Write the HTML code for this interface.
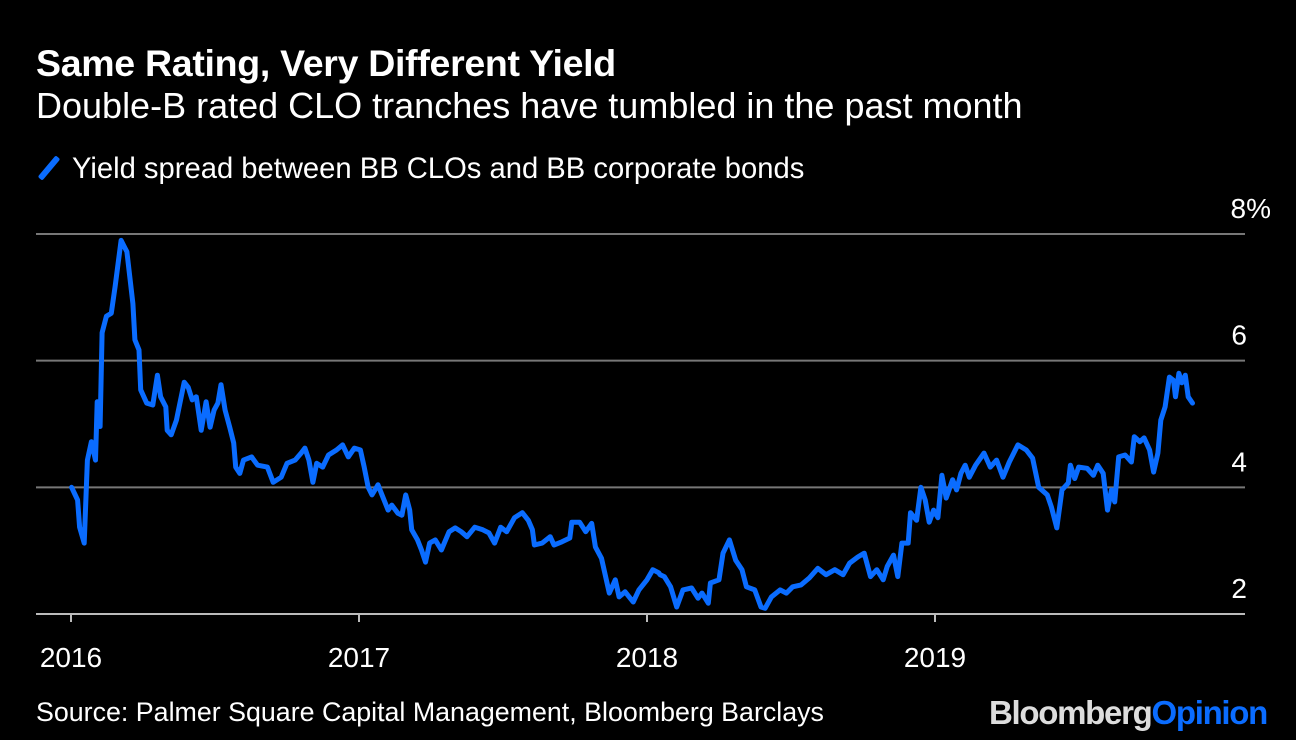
<!DOCTYPE html>
<html><head><meta charset="utf-8"><style>
body{margin:0;background:#000;width:1296px;height:740px;overflow:hidden;font-family:"Liberation Sans",sans-serif;color:#fff}
.t{position:absolute;white-space:nowrap;line-height:1}
</style></head><body>
<div class="t" style="left:36px;top:45px;font-size:37.5px;font-weight:bold;letter-spacing:-0.3px">Same Rating, Very Different Yield</div>
<div class="t" style="left:36px;top:88px;font-size:36px">Double-B rated CLO tranches have tumbled in the past month</div>
<div class="t" style="left:38px;top:154px;font-size:29.2px"><span style="display:inline-block;width:6px;height:28px;background:#0a6cff;transform:rotate(40deg);vertical-align:-4px;margin:0 20px 0 8px;border-radius:2px"></span>Yield spread between BB CLOs and BB corporate bonds</div>
<svg id="chart" width="1296" height="740" style="position:absolute;left:0;top:0"></svg>
<div class="t" style="left:36px;top:699px;font-size:26.8px">Source: Palmer Square Capital Management, Bloomberg Barclays</div>
<div class="t" style="left:989px;top:696px;font-size:33px;font-weight:bold;letter-spacing:-1.3px"><span style="color:#ddd">Bloomberg</span><span style="color:#0a6cff">Opinion</span></div>
<script>
const yearTicks=[2016,2017,2018,2019];
const yTicks=[2,4,6,8];
const tYears=[0.002,0.023,0.030,0.046,0.057,0.071,0.085,0.091,0.101,0.108,0.123,0.140,0.153,0.174,0.194,0.215,0.222,0.236,0.242,0.263,0.284,0.300,0.311,0.329,0.334,0.348,0.366,0.393,0.407,0.421,0.435,0.452,0.469,0.483,0.497,0.510,0.521,0.535,0.551,0.565,0.572,0.586,0.599,0.627,0.648,0.682,0.702,0.730,0.750,0.778,0.799,0.812,0.826,0.840,0.853,0.874,0.894,0.922,0.943,0.963,0.984,1.005,1.018,1.032,1.045,1.066,1.080,1.101,1.114,1.135,1.149,1.162,1.176,1.183,1.203,1.217,1.231,1.245,1.265,1.286,1.313,1.334,1.355,1.375,1.402,1.430,1.451,1.471,1.492,1.513,1.540,1.567,1.588,1.602,1.609,1.636,1.664,1.677,1.705,1.732,1.739,1.766,1.787,1.808,1.821,1.842,1.869,1.890,1.903,1.924,1.952,1.972,2.000,2.020,2.041,2.045,2.060,2.082,2.103,2.125,2.155,2.177,2.191,2.213,2.220,2.250,2.264,2.286,2.308,2.330,2.345,2.374,2.396,2.410,2.432,2.462,2.484,2.506,2.535,2.564,2.593,2.622,2.652,2.681,2.703,2.732,2.754,2.776,2.798,2.820,2.834,2.856,2.871,2.885,2.907,2.915,2.936,2.951,2.966,2.980,2.995,3.010,3.024,3.039,3.061,3.075,3.090,3.105,3.119,3.141,3.170,3.192,3.214,3.236,3.258,3.288,3.317,3.339,3.360,3.390,3.404,3.423,3.441,3.463,3.470,3.485,3.499,3.528,3.550,3.565,3.584,3.599,3.613,3.624,3.638,3.660,3.682,3.692,3.711,3.726,3.745,3.759,3.774,3.784,3.799,3.814,3.828,3.835,3.847,3.857,3.869,3.879,3.894];
const spread=[4.0,3.8,3.37,3.12,4.43,4.72,4.43,5.35,4.96,6.44,6.7,6.75,7.17,7.9,7.72,6.9,6.33,6.17,5.54,5.33,5.3,5.77,5.43,5.27,4.9,4.83,5.06,5.66,5.58,5.38,5.43,4.9,5.35,4.95,5.22,5.33,5.62,5.22,4.95,4.7,4.32,4.22,4.43,4.48,4.35,4.32,4.08,4.16,4.38,4.43,4.54,4.62,4.43,4.08,4.38,4.32,4.51,4.59,4.67,4.48,4.62,4.59,4.32,4.0,3.88,4.04,3.88,3.64,3.72,3.59,3.56,3.88,3.64,3.33,3.17,3.01,2.82,3.12,3.17,3.01,3.3,3.36,3.3,3.22,3.37,3.33,3.28,3.12,3.37,3.3,3.52,3.6,3.48,3.33,3.09,3.12,3.22,3.09,3.14,3.2,3.45,3.45,3.3,3.43,3.06,2.88,2.33,2.54,2.27,2.35,2.19,2.38,2.54,2.7,2.65,2.62,2.59,2.43,2.11,2.38,2.41,2.25,2.33,2.17,2.49,2.54,2.96,3.17,2.85,2.7,2.43,2.38,2.11,2.09,2.27,2.38,2.33,2.43,2.46,2.57,2.72,2.62,2.7,2.62,2.8,2.9,2.96,2.59,2.7,2.54,2.75,2.93,2.59,3.12,3.12,3.6,3.48,4.0,3.8,3.45,3.64,3.52,4.19,3.83,4.12,3.96,4.22,4.35,4.16,4.35,4.54,4.32,4.43,4.16,4.4,4.67,4.59,4.46,4.0,3.88,3.69,3.36,3.96,4.07,4.35,4.14,4.32,4.3,4.19,4.35,4.22,3.64,3.96,3.77,4.48,4.51,4.4,4.8,4.72,4.78,4.59,4.24,4.54,5.06,5.27,5.74,5.69,5.43,5.8,5.65,5.77,5.43,5.33];
const NS='http://www.w3.org/2000/svg';
const svg=document.getElementById('chart');
const xS=t=>71+t*288;
const yS=v=>614-(v-2)*63.33;
function mk(tag,at){const e=document.createElementNS(NS,tag);for(const k in at)e.setAttribute(k,at[k]);svg.appendChild(e);return e;}
yTicks.forEach(v=>{
  if(v>2){const g=mk('line',{x1:36,x2:1245,y1:yS(v),y2:yS(v),stroke:'#777','stroke-width':2});
  
  }
  const l=mk('text',{x:v===8?1271:1247,y:yS(v)-16,'text-anchor':'end',fill:'#fff','font-size':28,'font-family':'Liberation Sans'});
  l.textContent=v===8?'8%':String(v);
  
  
});
const ax=mk('line',{x1:36,x2:1245,y1:614,y2:614,stroke:'#bbb','stroke-width':2});


yearTicks.forEach(yr=>{
  const x=xS(yr-2016);
  const tk=mk('line',{x1:x,x2:x,y1:614,y2:622,stroke:'#bbb','stroke-width':2});
  
  
  const tl=mk('text',{x:x,y:667,'text-anchor':'middle',fill:'#fff','font-size':28,'font-family':'Liberation Sans'});
  tl.textContent=String(yr);
  
  
});
const d=tYears.map((t,i)=>(i?'L':'M')+xS(t).toFixed(1)+','+yS(spread[i]).toFixed(1)).join('');
const p=mk('path',{d:d,fill:'none',stroke:'#0a6cff','stroke-width':5,'stroke-linejoin':'round','stroke-linecap':'round'});


</script>
</body></html>
